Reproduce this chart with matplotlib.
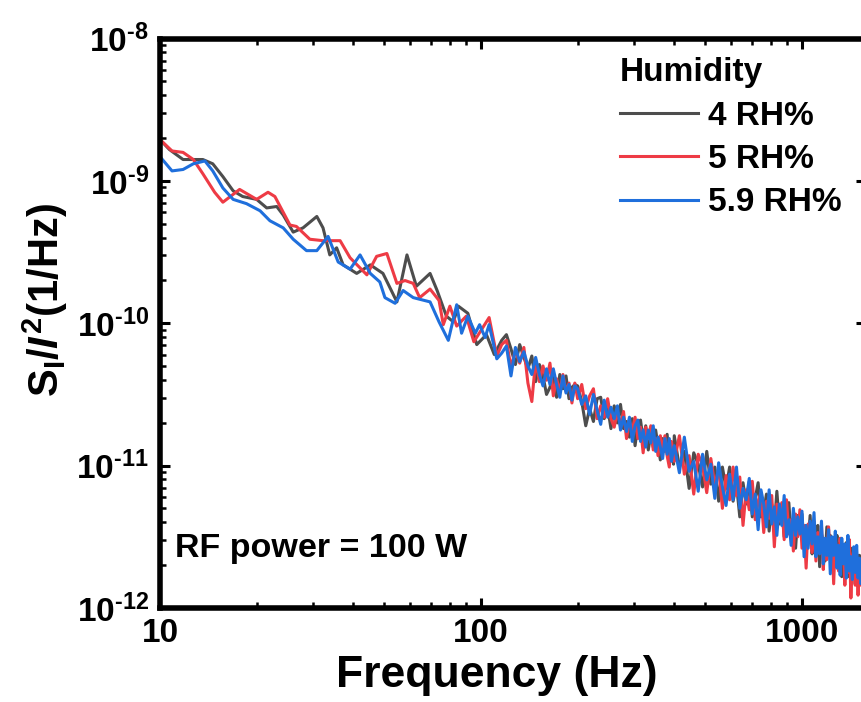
import numpy as np
import matplotlib
matplotlib.use('Agg')
import matplotlib.pyplot as plt
from matplotlib.ticker import FixedLocator, FuncFormatter, NullFormatter

plt.rcParams['font.family'] = ['Liberation Sans', 'DejaVu Sans']
plt.rcParams['font.weight'] = 'bold'
plt.rcParams['mathtext.fontset'] = 'custom'
plt.rcParams['mathtext.rm'] = 'Liberation Sans:bold'
plt.rcParams['mathtext.bf'] = 'Liberation Sans:bold'
plt.rcParams['mathtext.it'] = 'Liberation Sans:bold:italic'
plt.rcParams['mathtext.default'] = 'rm'

# ---------------- data (log10 of S_I/I^2) ----------------
labels = ['4 RH%', '5 RH%', '5.9 RH%']
colors = ['#4d4d4d', '#ee3b45', '#1f6fdc']
x_major = [10, 100, 1000]
y_major_exp = [-12, -11, -10, -9, -8]

freq_gray_lo = [10, 10.7, 11.8, 13.6, 14.6, 15.7, 16.9, 18.1, 20.0, 21.5, 23.1, 24.2, 26.0, 27.9, 30.8,
                32.2, 33.8, 35.5, 37.2, 41.0, 45.2, 49.5, 54.7, 58.8, 62.9, 69.4, 73, 78, 82, 85,
                91, 97, 104, 110]
log_gray_lo = [-8.71, -8.78, -8.85, -8.85, -8.88, -8.97, -9.07, -9.11, -9.13, -9.19, -9.18, -9.24, -9.36, -9.33, -9.25,
               -9.33, -9.52, -9.47, -9.59, -9.65, -9.59, -9.65, -9.85, -9.52, -9.74, -9.65, -9.77, -9.95, -9.99, -9.88,
               -9.93, -10.15, -10.08, -10.22]

freq_red_lo = [10, 10.9, 11.8, 12.7, 13.6, 14.8, 15.7, 17.7, 20.0, 21.7, 22.8, 25.4, 26.6, 29.3, 32.2,
               36.4, 39.1, 44.1, 47.3, 50.9, 54.7, 58, 61.5, 64.4, 69.4, 74, 76.3, 80, 84, 90,
               95, 100, 106, 112]
log_red_lo = [-8.71, -8.79, -8.80, -8.85, -8.95, -9.08, -9.15, -9.06, -9.13, -9.08, -9.11, -9.31, -9.32, -9.41, -9.42,
              -9.42, -9.54, -9.66, -9.53, -9.51, -9.72, -9.70, -9.72, -9.82, -9.76, -9.84, -10.01, -9.88, -10.02, -9.95,
              -10.13, -10.05, -9.96, -10.23]

freq_blue_lo = [10, 10.9, 11.8, 12.7, 13.8, 14.6, 15.7, 16.9, 18.6, 20.5, 22.0, 24.2, 26.0, 28.6, 30.8,
                33.4, 35.9, 39.1, 42.0, 45.2, 48.4, 50.2, 54.0, 57.2, 61.5, 69.4, 74.0, 79.1, 84, 87,
                91, 96, 99, 103, 106, 112]
log_blue_lo = [-8.83, -8.93, -8.92, -8.88, -8.86, -8.93, -9.05, -9.13, -9.16, -9.21, -9.28, -9.33, -9.41, -9.49, -9.49,
               -9.39, -9.57, -9.62, -9.52, -9.65, -9.71, -9.82, -9.86, -9.77, -9.82, -9.85, -9.99, -10.12, -9.87, -10.07,
               -9.95, -10.07, -10.01, -10.10, -10.01, -10.25]

# shared frequency grid for the dense part of the spectra
freq_hi = np.concatenate([np.arange(116, 200, 4), np.arange(200, 400, 6), np.arange(400, 1545, 15)])

log_gray_hi = [
    -10.12, -10.08, -10.18, -10.29, -10.15, -10.24, -10.32, -10.23, -10.41, -10.29, -10.37, -10.50, -10.45, -10.36,
    -10.52, -10.36, -10.46, -10.37, -10.53, -10.45, -10.43,
    -10.44, -10.55, -10.72, -10.60, -10.69, -10.53, -10.52, -10.67, -10.59, -10.74, -10.58, -10.70, -10.57, -10.74,
    -10.69, -10.80, -10.67, -10.86, -10.71, -10.68, -10.82, -10.72, -10.89, -10.78, -10.87, -10.75, -10.86, -10.96,
    -10.81, -10.90, -10.78, -10.95, -10.86, -10.99,
    -10.79, -11.01, -10.90, -11.16, -10.91, -10.99, -11.15, -10.90, -11.13, -11.01,
    -11.25, -11.01, -11.16, -11.01, -11.25, -11.13, -11.36, -11.12, -11.27, -11.11,
    -11.36, -11.23, -11.12, -11.36, -11.32, -11.20, -11.46, -11.27, -11.43, -11.18,
    -11.41, -11.29, -11.50, -11.36, -11.26, -11.50, -11.37, -11.58, -11.35, -11.48,
    -11.34, -11.58, -11.42, -11.54, -11.35, -11.62, -11.48, -11.60, -11.42, -11.71,
    -11.48, -11.53, -11.67, -11.43, -11.63, -11.49, -11.73, -11.55, -11.63, -11.49,
    -11.71, -11.54, -11.78, -11.58, -11.69, -11.54, -11.78, -11.63, -11.58, -11.76,
    -11.63, -11.83, -11.62, -11.76, -11.63, -11.78, -11.67]

log_red_hi = [
    -10.15, -10.12, -10.31, -10.19, -10.28, -10.17, -10.42, -10.55, -10.26, -10.41, -10.30, -10.40, -10.28, -10.51,
    -10.39, -10.48, -10.36, -10.48, -10.42, -10.56, -10.42,
    -10.53, -10.43, -10.60, -10.51, -10.46, -10.67, -10.58, -10.66, -10.53, -10.67, -10.73, -10.62, -10.72, -10.62,
    -10.81, -10.69, -10.75, -10.66, -10.81, -10.73, -10.91, -10.73, -10.81, -10.72, -10.89, -10.81, -10.93, -10.79,
    -10.90, -10.79, -10.93, -11.01, -10.83, -10.93,
    -10.97, -10.79, -11.06, -10.93, -11.20, -10.92, -11.00, -11.19, -10.95, -11.14,
    -11.02, -11.30, -11.07, -11.24, -11.01, -11.21, -11.08, -11.42, -11.17, -11.31,
    -11.11, -11.38, -11.25, -11.19, -11.47, -11.25, -11.37, -11.21, -11.57, -11.27,
    -11.39, -11.26, -11.52, -11.24, -11.48, -11.38, -11.60, -11.34, -11.50, -11.31,
    -11.58, -11.42, -11.72, -11.41, -11.48, -11.61, -11.39, -11.67, -11.47, -11.59,
    -11.43, -11.73, -11.53, -11.66, -11.43, -11.64, -11.54, -11.83, -11.51, -11.63,
    -11.74, -11.51, -11.68, -11.56, -11.84, -11.59, -11.75, -11.52, -11.93, -11.65,
    -11.59, -11.84, -11.65, -11.91, -11.69, -11.84, -11.65]

log_blue_hi = [
    -10.21, -10.16, -10.37, -10.17, -10.27, -10.20, -10.30, -10.36, -10.24, -10.36, -10.44, -10.32, -10.43, -10.32,
    -10.43, -10.52, -10.37, -10.49, -10.43, -10.54, -10.44,
    -10.46, -10.57, -10.51, -10.64, -10.50, -10.61, -10.71, -10.54, -10.66, -10.59, -10.67, -10.58, -10.75, -10.66,
    -10.76, -10.66, -10.83, -10.72, -10.68, -10.83, -10.75, -10.87, -10.75, -10.84, -10.72, -10.90, -10.80, -10.87,
    -10.95, -10.81, -10.92, -10.81, -10.97, -10.88,
    -10.86, -11.05, -10.80, -11.04, -10.97, -11.18, -10.92, -11.10, -10.99, -11.23,
    -10.98, -11.15, -11.28, -11.06, -11.24, -11.01, -11.30, -11.16, -11.24, -11.09,
    -11.34, -11.20, -11.45, -11.17, -11.27, -11.43, -11.17, -11.41, -11.29, -11.49,
    -11.27, -11.42, -11.21, -11.50, -11.38, -11.56, -11.30, -11.49, -11.36, -11.48,
    -11.32, -11.64, -11.42, -11.58, -11.39, -11.55, -11.33, -11.64, -11.50, -11.62,
    -11.39, -11.69, -11.51, -11.63, -11.45, -11.76, -11.50, -11.63, -11.46, -11.72,
    -11.56, -11.77, -11.51, -11.69, -11.55, -11.79, -11.49, -11.74, -11.64, -11.80,
    -11.57, -11.75, -11.56, -11.79, -11.65, -11.83, -11.68]

series_freq = [np.concatenate([freq_gray_lo, freq_hi]),
               np.concatenate([freq_red_lo, freq_hi]),
               np.concatenate([freq_blue_lo, freq_hi])]
series_log = [log_gray_lo + log_gray_hi, log_red_lo + log_red_hi, log_blue_lo + log_blue_hi]

# ---------------- figure ----------------
W, H = 862, 702
fig = plt.figure(figsize=(W / 100, H / 100), dpi=100)
ax_l, ax_r, ax_t, ax_b = 160, 866, 38.5, 608
ax = fig.add_axes([ax_l / W, 1 - ax_b / H, (ax_r - ax_l) / W, (ax_b - ax_t) / H])

for f, lv, c, lab in zip(series_freq, series_log, colors, labels):
    ax.plot(f, 10.0 ** np.asarray(lv), color=c, lw=2.2, label=lab, solid_joinstyle='round')

ax.set_xscale('log')
ax.set_yscale('log')
xmax = 10 ** (1 + (ax_r - ax_l) / 321.0)
ax.set_xlim(10, xmax)
ax.set_ylim(1e-12, 1e-8)

HYPHEN = '\u2010'


def y_label(v, pos):
    return '$\\mathbf{10^{' + HYPHEN + '%d}}$' % abs(round(np.log10(v)))


x_minor = [m * d for d in (10, 100, 1000) for m in range(2, 10) if m * d < xmax]
y_minor = [m * 10.0 ** e for e in y_major_exp[:-1] for m in range(2, 10)]
ax.xaxis.set_major_locator(FixedLocator(x_major))
ax.xaxis.set_minor_locator(FixedLocator(x_minor))
ax.yaxis.set_major_locator(FixedLocator([10.0 ** e for e in y_major_exp]))
ax.yaxis.set_minor_locator(FixedLocator(y_minor))
ax.xaxis.set_major_formatter(FuncFormatter(lambda v, p: '%d' % round(v)))
ax.yaxis.set_major_formatter(FuncFormatter(y_label))
ax.xaxis.set_minor_formatter(NullFormatter())
ax.yaxis.set_minor_formatter(NullFormatter())

for s in ax.spines.values():
    s.set_linewidth(4)
ax.tick_params(which='both', direction='in', top=True, right=True)
ax.tick_params(which='major', length=7, width=2.2, labelsize=24, pad=7)
ax.tick_params(which='minor', length=4.3, width=1.8)
ax.tick_params(axis='y', which='minor', right=False)
ax.tick_params(axis='y', which='major', pad=8)

ax.set_xlabel('Frequency (Hz)', fontsize=32, fontweight='bold')
ax.xaxis.set_label_coords(0.477, -0.082)
ax.set_ylabel(r'$\mathrm{S}_{\mathrm{I}}/\mathit{I}^{2}\mathrm{(1/Hz)}$', fontsize=30)
ax.yaxis.set_label_coords(-0.128, 0.54)

ax.text(0.021, 0.09, 'RF power = 100 W', transform=ax.transAxes, fontsize=24.5,
        fontweight='bold', ha='left', va='baseline')

leg = ax.legend(loc='upper left', bbox_to_anchor=((620 - ax_l) / (ax_r - ax_l), 0.967),
                frameon=False, fontsize=24, title='Humidity', title_fontsize=24,
                handlelength=2.35, handletextpad=0.3, labelspacing=0.37,
                borderpad=0, borderaxespad=0, alignment='left')
leg.get_title().set_fontweight('bold')
for t in leg.get_texts():
    t.set_fontweight('bold')

fig.savefig('out.png', dpi=100)
